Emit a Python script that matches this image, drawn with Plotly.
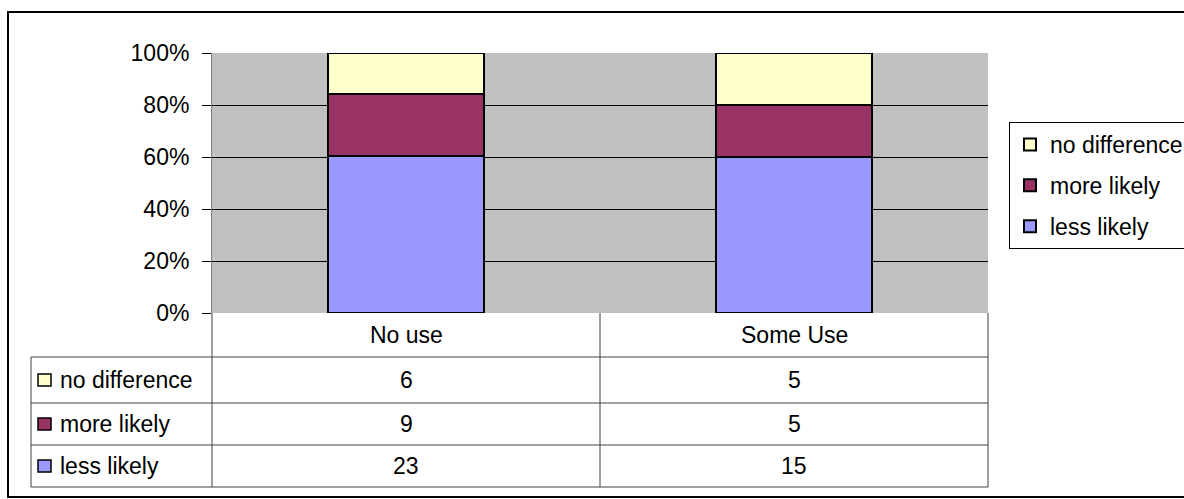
import plotly.graph_objects as go

# ---- data ----
categories = ["No use", "Some Use"]
series_names = ["less likely", "more likely", "no difference"]
less_likely = [23, 15]
more_likely = [9, 5]
no_difference = [6, 5]
series_values = [less_likely, more_likely, no_difference]
series_colors = ["#9999FF", "#993366", "#FFFFCC"]
y_ticks = [0, 20, 40, 60, 80, 100]
y_tick_labels = ["0%", "20%", "40%", "60%", "80%", "100%"]

W, H = 1184, 499
L, R, T, B = 212, 988, 53, 313  # plot area in pixels
FONT = "Liberation Sans, Arial, sans-serif"
FS = 23


def px(x):
    return (x - L) / (R - L)


def py(y):
    return (B - y) / (B - T)


fig = go.Figure()
n = len(series_names)
for i, (name, vals, col) in enumerate(zip(series_names, series_values, series_colors)):
    fig.add_trace(go.Bar(
        x=categories, y=vals, name=name, legendgroup=name, legendrank=n - i,
        marker=dict(color=col, line=dict(color="black", width=2)),
    ))

shapes = []
annotations = []

# outer chart border
shapes.append(dict(type="rect", xref="paper", yref="paper",
                   x0=px(8), x1=px(1200), y0=py(497), y1=py(12),
                   line=dict(color="black", width=2), fillcolor="rgba(0,0,0,0)", layer="below"))

# data table geometry
header_bottom = 357
row_lines = [357, 403, 445, 487]
col_x = [31, 212, 600, 988]
line_c = "#404040"

for x in col_x[1:]:
    shapes.append(dict(type="line", xref="paper", yref="paper",
                       x0=px(x), x1=px(x), y0=py(B), y1=py(487),
                       line=dict(color=line_c, width=1)))
shapes.append(dict(type="line", xref="paper", yref="paper",
                   x0=px(31), x1=px(31), y0=py(357), y1=py(487),
                   line=dict(color=line_c, width=1)))
for y in row_lines:
    shapes.append(dict(type="line", xref="paper", yref="paper",
                       x0=px(31), x1=px(988), y0=py(y), y1=py(y),
                       line=dict(color=line_c, width=1)))

# header labels
centers = [(col_x[1] + col_x[2]) / 2, (col_x[2] + col_x[3]) / 2]
for cx, cat in zip(centers, categories):
    annotations.append(dict(xref="paper", yref="paper", x=px(cx), y=py((B + header_bottom) / 2),
                            text=cat, showarrow=False, xanchor="center", yanchor="middle",
                            font=dict(family=FONT, size=FS, color="black")))

# table rows (top to bottom: reversed series order)
table_order = list(range(n))[::-1]
for r, si in enumerate(table_order):
    y0, y1 = row_lines[r], row_lines[r + 1]
    yc = (y0 + y1) / 2
    shapes.append(dict(type="rect", xref="paper", yref="paper",
                       x0=px(38), x1=px(51), y0=py(yc + 6), y1=py(yc - 6),
                       fillcolor=series_colors[si], line=dict(color="black", width=1.5)))
    annotations.append(dict(xref="paper", yref="paper", x=px(58), y=py(yc),
                            text=series_names[si], showarrow=False, xanchor="left", yanchor="middle",
                            font=dict(family=FONT, size=FS, color="black")))
    for cx, v in zip(centers, series_values[si]):
        annotations.append(dict(xref="paper", yref="paper", x=px(cx), y=py(yc),
                                text=str(v), showarrow=False, xanchor="center", yanchor="middle",
                                font=dict(family=FONT, size=FS, color="black")))

fig.update_layout(
    width=W, height=H,
    margin=dict(l=L, r=W - R, t=T, b=H - B, autoexpand=False),
    paper_bgcolor="white", plot_bgcolor="#C0C0C0",
    barmode="stack", barnorm="percent", bargap=0.6,
    font=dict(family=FONT, size=FS, color="black"),
    shapes=shapes, annotations=annotations,
    legend=dict(
        x=px(1009), y=py(122), xanchor="left", yanchor="top",
        traceorder="grouped", tracegroupgap=8,
        bordercolor="black", borderwidth=1, bgcolor="white",
        font=dict(family=FONT, size=FS, color="black"),
    ),
    showlegend=True,
)
fig.update_xaxes(showticklabels=False, showgrid=False, zeroline=False, showline=False, ticks="")
fig.update_yaxes(range=[0, 100], tickmode="array", tickvals=y_ticks, ticktext=y_tick_labels,
                 showgrid=True, gridcolor="black", gridwidth=1,
                 zeroline=False, showline=True, linecolor="#808080", linewidth=1,
                 ticks="outside", ticklen=9, tickcolor="black", tickwidth=1,
                 ticklabelstandoff=8)

fig.write_html("out.html", config={"displayModeBar": False},
               post_script="document.body.style.margin='0';document.body.style.overflow='hidden';")
